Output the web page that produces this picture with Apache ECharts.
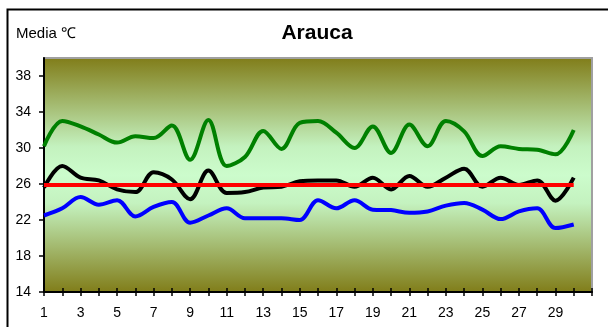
<!DOCTYPE html>
<html>
<head>
<meta charset="utf-8">
<script src="https://cdn.jsdelivr.net/npm/echarts@6/dist/echarts.min.js"></script>
<style>
html,body{margin:0;padding:0;background:#fff;}
#chart{width:608px;height:327px;}
</style>
</head>
<body>
<div id="chart"></div>
<script>
const days = ['1','2','3','4','5','6','7','8','9','10','11','12','13','14','15','16','17','18','19','20','21','22','23','24','25','26','27','28','29','30'];
const axisEnd = [''];
const yTicks = [14, 40, 4];
const maxT = [30.2,33.0,32.4,31.5,30.6,31.3,31.1,32.5,28.7,33.1,28.0,29.0,31.9,29.9,32.8,33.0,31.7,30.0,32.4,29.45,32.6,30.2,33.0,31.85,29.1,30.2,29.9,29.8,29.3,32.0];
const meanT = [25.6,28.0,26.7,26.4,25.4,25.1,27.3,26.5,24.3,27.5,25.0,25.1,25.6,25.7,26.3,26.4,26.4,25.7,26.7,25.4,26.9,25.7,26.7,27.7,25.7,26.7,25.9,26.4,24.15,26.7];
const minT = [22.5,23.3,24.55,23.7,24.2,22.4,23.45,24.0,21.7,22.5,23.3,22.2,22.2,22.2,22.0,24.2,23.3,24.2,23.15,23.1,22.8,22.95,23.6,23.9,23.15,22.1,22.95,23.3,21.1,21.5];
const normalT = [25.9,25.9,25.9,25.9,25.9,25.9,25.9,25.9,25.9,25.9,25.9,25.9,25.9,25.9,25.9,25.9,25.9,25.9,25.9,25.9,25.9,25.9,25.9,25.9,25.9,25.9,25.9,25.9,25.9,25.9];

const categories = days.concat(axisEnd);
const chart = echarts.init(document.getElementById('chart'));
const font = 'Liberation Sans, Arial, sans-serif';
const lineSeries = (data, color, z, smooth) => ({
  type: 'line', data: data, symbol: 'none', smooth: smooth, z: z,
  lineStyle: {color: color, width: 4}, itemStyle: {color: color},
  xAxisIndex: 0, yAxisIndex: 0
});
chart.setOption({
  animation: false,
  backgroundColor: '#ffffff',
  graphic: [{
    type: 'rect', left: 5, top: 7, z: -10,
    shape: {x: 0, y: 0, width: 700, height: 400},
    style: {fill: 'none', stroke: '#000', lineWidth: 2}
  }],
  title: [{
    text: 'Arauca', left: 312, top: 18, textAlign: 'center',
    textStyle: {fontFamily: font, fontSize: 21, fontWeight: 'bold', color: '#000'}
  }, {
    text: 'Media ℃', left: 11, top: 21,
    textStyle: {fontFamily: font, fontSize: 15, fontWeight: 'normal', color: '#000'}
  }],
  grid: {
    left: 44, right: 16, top: 58, bottom: 35, show: true,
    borderColor: '#a0a0a0', borderWidth: 2,
    backgroundColor: new echarts.graphic.LinearGradient(0, 0, 0, 1, [
      {offset: 0, color: '#807c18'},
      {offset: 0.38, color: '#c4f2bf'},
      {offset: 0.5, color: '#ccfccc'},
      {offset: 0.62, color: '#c4f2bf'},
      {offset: 1, color: '#807c18'}
    ])
  },
  xAxis: [{
    type: 'category', data: categories, boundaryGap: false,
    axisLine: {show: true, lineStyle: {color: '#000', width: 2}},
    axisTick: {show: true, interval: 0, length: 4, lineStyle: {color: '#000', width: 1.5}},
    axisLabel: {interval: 1, margin: 14, fontFamily: font, fontSize: 14, color: '#000'},
    splitLine: {show: false}
  }, {
    type: 'category', data: categories, boundaryGap: false, position: 'bottom',
    axisLine: {show: false},
    axisTick: {show: true, inside: true, interval: 0, length: 4, lineStyle: {color: '#000', width: 1.5}},
    axisLabel: {show: false},
    splitLine: {show: false}
  }],
  yAxis: {
    type: 'value', min: yTicks[0], max: yTicks[1], interval: yTicks[2],
    axisLine: {show: true, lineStyle: {color: '#000', width: 2}},
    axisTick: {show: true, length: 5, lineStyle: {color: '#000', width: 1.5}},
    axisLabel: {showMaxLabel: false, margin: 13, fontFamily: font, fontSize: 14, color: '#000'},
    splitLine: {show: false}
  },
  series: [
    lineSeries(maxT, '#008000', 2, 0.35),
    lineSeries(meanT, '#000000', 3, 0.35),
    lineSeries(minT, '#0000ff', 4, 0.35),
    lineSeries(normalT, '#ff0000', 5, false)
  ]
});
</script>
</body>
</html>
